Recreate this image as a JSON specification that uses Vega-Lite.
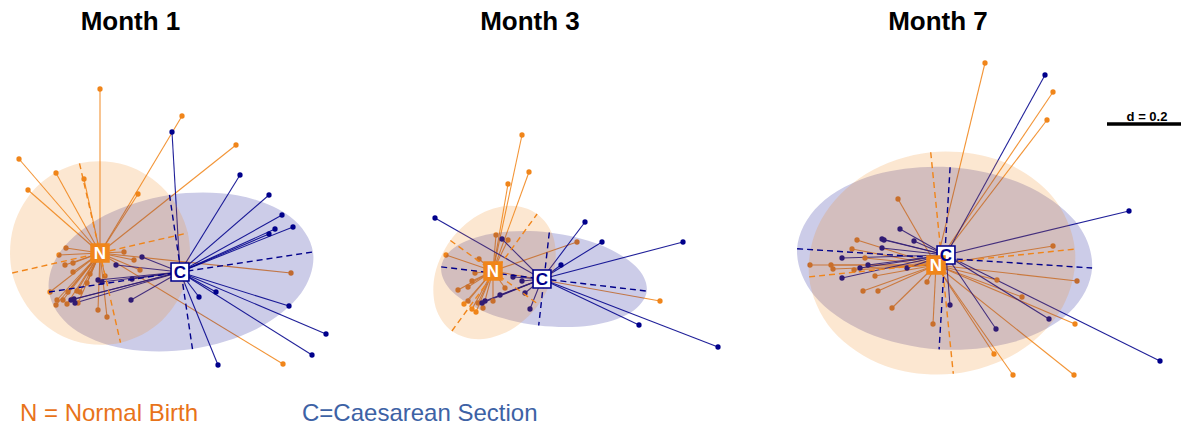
{
"$schema": "https://vega.github.io/schema/vega-lite/v6.json",
"padding": {"top": 9, "left": 0, "right": 0, "bottom": 0},
"spacing": 0,
"bounds": "flush",
"background": "white",
"config": {"view": {"stroke": null}, "title": {"font": "Liberation Sans", "fontSize": 26, "fontWeight": "bold", "color": "#000000", "offset": 6}},
"datasets": {
"pts": [
{"m":1,"g":"N","x":100,"y":88},{"m":1,"g":"N","x":19,"y":158},{"m":1,"g":"N","x":56,"y":172},{"m":1,"g":"N","x":28,"y":189},{"m":1,"g":"N","x":84,"y":178},{"m":1,"g":"N","x":138,"y":193},{"m":1,"g":"N","x":182,"y":115},{"m":1,"g":"N","x":236,"y":144},{"m":1,"g":"N","x":291,"y":272},{"m":1,"g":"N","x":283,"y":363},{"m":1,"g":"N","x":66,"y":247},{"m":1,"g":"N","x":59,"y":254},{"m":1,"g":"N","x":65,"y":264},{"m":1,"g":"N","x":73,"y":262},{"m":1,"g":"N","x":124,"y":251},{"m":1,"g":"N","x":134,"y":259},{"m":1,"g":"N","x":140,"y":269},{"m":1,"g":"N","x":73,"y":271},{"m":1,"g":"N","x":90,"y":273},{"m":1,"g":"N","x":50,"y":291},{"m":1,"g":"N","x":68,"y":291},{"m":1,"g":"N","x":77,"y":290},{"m":1,"g":"N","x":80,"y":291},{"m":1,"g":"N","x":87,"y":282},{"m":1,"g":"N","x":57,"y":299},{"m":1,"g":"N","x":63,"y":299},{"m":1,"g":"N","x":56,"y":304},{"m":1,"g":"N","x":67,"y":303},{"m":1,"g":"N","x":78,"y":302},{"m":1,"g":"N","x":98,"y":309},{"m":1,"g":"N","x":107,"y":316},{"m":1,"g":"N","x":105,"y":275},{"m":1,"g":"N","x":100,"y":280},
{"m":1,"g":"C","x":172,"y":131},{"m":1,"g":"C","x":240,"y":174},{"m":1,"g":"C","x":269,"y":194},{"m":1,"g":"C","x":282,"y":214},{"m":1,"g":"C","x":275,"y":228},{"m":1,"g":"C","x":293,"y":226},{"m":1,"g":"C","x":269,"y":233},{"m":1,"g":"C","x":199,"y":296},{"m":1,"g":"C","x":216,"y":291},{"m":1,"g":"C","x":289,"y":305},{"m":1,"g":"C","x":326,"y":333},{"m":1,"g":"C","x":312,"y":354},{"m":1,"g":"C","x":218,"y":364},{"m":1,"g":"C","x":142,"y":256},{"m":1,"g":"C","x":116,"y":264},{"m":1,"g":"C","x":98,"y":279},{"m":1,"g":"C","x":102,"y":281},{"m":1,"g":"C","x":132,"y":278},{"m":1,"g":"C","x":131,"y":299},{"m":1,"g":"C","x":71,"y":299},{"m":1,"g":"C","x":75,"y":302},{"m":1,"g":"C","x":74,"y":298},
{"m":3,"g":"N","x":522,"y":134},{"m":3,"g":"N","x":529,"y":171},{"m":3,"g":"N","x":508,"y":183},{"m":3,"g":"N","x":496,"y":234},{"m":3,"g":"N","x":508,"y":239},{"m":3,"g":"N","x":446,"y":254},{"m":3,"g":"N","x":479,"y":258},{"m":3,"g":"N","x":475,"y":272},{"m":3,"g":"N","x":472,"y":280},{"m":3,"g":"N","x":458,"y":289},{"m":3,"g":"N","x":468,"y":286},{"m":3,"g":"N","x":468,"y":300},{"m":3,"g":"N","x":464,"y":303},{"m":3,"g":"N","x":472,"y":308},{"m":3,"g":"N","x":476,"y":311},{"m":3,"g":"N","x":483,"y":307},{"m":3,"g":"N","x":478,"y":302},{"m":3,"g":"N","x":493,"y":300},{"m":3,"g":"N","x":505,"y":287},{"m":3,"g":"N","x":577,"y":241},{"m":3,"g":"N","x":660,"y":300},
{"m":3,"g":"C","x":435,"y":217},{"m":3,"g":"C","x":502,"y":238},{"m":3,"g":"C","x":561,"y":264},{"m":3,"g":"C","x":513,"y":276},{"m":3,"g":"C","x":522,"y":280},{"m":3,"g":"C","x":525,"y":292},{"m":3,"g":"C","x":530,"y":308},{"m":3,"g":"C","x":500,"y":294},{"m":3,"g":"C","x":485,"y":300},{"m":3,"g":"C","x":482,"y":302},{"m":3,"g":"C","x":585,"y":221},{"m":3,"g":"C","x":602,"y":241},{"m":3,"g":"C","x":683,"y":241},{"m":3,"g":"C","x":639,"y":324},{"m":3,"g":"C","x":718,"y":346},
{"m":7,"g":"N","x":985,"y":62},{"m":7,"g":"N","x":898,"y":198},{"m":7,"g":"N","x":1053,"y":91},{"m":7,"g":"N","x":1047,"y":119},{"m":7,"g":"N","x":857,"y":239},{"m":7,"g":"N","x":852,"y":248},{"m":7,"g":"N","x":865,"y":257},{"m":7,"g":"N","x":810,"y":264},{"m":7,"g":"N","x":831,"y":264},{"m":7,"g":"N","x":833,"y":268},{"m":7,"g":"N","x":854,"y":269},{"m":7,"g":"N","x":875,"y":275},{"m":7,"g":"N","x":927,"y":281},{"m":7,"g":"N","x":863,"y":290},{"m":7,"g":"N","x":878,"y":290},{"m":7,"g":"N","x":892,"y":307},{"m":7,"g":"N","x":933,"y":323},{"m":7,"g":"N","x":1053,"y":245},{"m":7,"g":"N","x":1077,"y":280},{"m":7,"g":"N","x":997,"y":279},{"m":7,"g":"N","x":1022,"y":296},{"m":7,"g":"N","x":1075,"y":323},{"m":7,"g":"N","x":994,"y":353},{"m":7,"g":"N","x":1013,"y":374},{"m":7,"g":"N","x":1074,"y":374},
{"m":7,"g":"C","x":1045,"y":74},{"m":7,"g":"C","x":1129,"y":210},{"m":7,"g":"C","x":900,"y":228},{"m":7,"g":"C","x":882,"y":238},{"m":7,"g":"C","x":884,"y":239},{"m":7,"g":"C","x":914,"y":240},{"m":7,"g":"C","x":882,"y":247},{"m":7,"g":"C","x":842,"y":257},{"m":7,"g":"C","x":860,"y":267},{"m":7,"g":"C","x":868,"y":264},{"m":7,"g":"C","x":907,"y":267},{"m":7,"g":"C","x":842,"y":277},{"m":7,"g":"C","x":950,"y":304},{"m":7,"g":"C","x":1049,"y":318},{"m":7,"g":"C","x":996,"y":328},{"m":7,"g":"C","x":1160,"y":360}
],
"c1": [{"g":"C","x":180,"y":271},{"g":"N","x":100,"y":252}],
"c3": [{"g":"C","x":542,"y":278},{"g":"N","x":493,"y":270}],
"c7": [{"g":"C","x":946,"y":254},{"g":"N","x":936,"y":264}],
"ell": [
{"m":1,"g":"C","i":0,"x":192.5,"y":348.1},{"m":1,"g":"C","i":1,"x":257,"y":327.8},{"m":1,"g":"C","i":2,"x":301.1,"y":292.3},{"m":1,"g":"C","i":3,"x":313,"y":251},{"m":1,"g":"C","i":4,"x":289.6,"y":215.2},{"m":1,"g":"C","i":5,"x":237,"y":194.2},{"m":1,"g":"C","i":6,"x":169.5,"y":193.9},{"m":1,"g":"C","i":7,"x":105,"y":214.2},{"m":1,"g":"C","i":8,"x":60.9,"y":249.8},{"m":1,"g":"C","i":9,"x":49,"y":291},{"m":1,"g":"C","i":10,"x":72.5,"y":326.9},{"m":1,"g":"C","i":11,"x":125,"y":347.8},
{"m":1,"g":"N","i":0,"x":120.5,"y":341.7},{"m":1,"g":"N","i":1,"x":161.7,"y":319.7},{"m":1,"g":"N","i":2,"x":186.3,"y":279.5},{"m":1,"g":"N","i":3,"x":187.8,"y":232},{"m":1,"g":"N","i":4,"x":165.8,"y":189.9},{"m":1,"g":"N","i":5,"x":126.1,"y":164.3},{"m":1,"g":"N","i":6,"x":79.5,"y":162.3},{"m":1,"g":"N","i":7,"x":38.3,"y":184.3},{"m":1,"g":"N","i":8,"x":13.8,"y":224.5},{"m":1,"g":"N","i":9,"x":12.2,"y":272},{"m":1,"g":"N","i":10,"x":34.3,"y":314.2},{"m":1,"g":"N","i":11,"x":73.9,"y":339.7},
{"m":3,"g":"C","i":0,"x":538.7,"y":324.5},{"m":3,"g":"C","i":1,"x":590.8,"y":324.4},{"m":3,"g":"C","i":2,"x":630.4,"y":311.8},{"m":3,"g":"C","i":3,"x":646.8,"y":290.1},{"m":3,"g":"C","i":4,"x":635.7,"y":265.3},{"m":3,"g":"C","i":5,"x":600,"y":243.8},{"m":3,"g":"C","i":6,"x":549.3,"y":231.5},{"m":3,"g":"C","i":7,"x":497.2,"y":231.7},{"m":3,"g":"C","i":8,"x":457.7,"y":244.3},{"m":3,"g":"C","i":9,"x":441.2,"y":265.9},{"m":3,"g":"C","i":10,"x":452.4,"y":290.8},{"m":3,"g":"C","i":11,"x":488,"y":312.3},
{"m":3,"g":"N","i":0,"x":537.1,"y":213},{"m":3,"g":"N","i":1,"x":553.5,"y":236.8},{"m":3,"g":"N","i":2,"x":554,"y":270},{"m":3,"g":"N","i":3,"x":538.6,"y":303.5},{"m":3,"g":"N","i":4,"x":511.4,"y":328.5},{"m":3,"g":"N","i":5,"x":479.7,"y":338.2},{"m":3,"g":"N","i":6,"x":451.9,"y":330},{"m":3,"g":"N","i":7,"x":435.6,"y":306.2},{"m":3,"g":"N","i":8,"x":435,"y":273},{"m":3,"g":"N","i":9,"x":450.4,"y":239.5},{"m":3,"g":"N","i":10,"x":477.6,"y":214.6},{"m":3,"g":"N","i":11,"x":509.4,"y":204.8},
{"m":7,"g":"C","i":0,"x":939.1,"y":348.4},{"m":7,"g":"C","i":1,"x":1013.6,"y":341},{"m":7,"g":"C","i":2,"x":1069.6,"y":311.2},{"m":7,"g":"C","i":3,"x":1092.1,"y":267},{"m":7,"g":"C","i":4,"x":1075.1,"y":220.1},{"m":7,"g":"C","i":5,"x":1023.1,"y":183.2},{"m":7,"g":"C","i":6,"x":950.1,"y":166.2},{"m":7,"g":"C","i":7,"x":875.6,"y":173.6},{"m":7,"g":"C","i":8,"x":819.7,"y":203.4},{"m":7,"g":"C","i":9,"x":797.1,"y":247.7},{"m":7,"g":"C","i":10,"x":814.2,"y":294.5},{"m":7,"g":"C","i":11,"x":866.1,"y":331.4},
{"m":7,"g":"N","i":0,"x":953.3,"y":372.8},{"m":7,"g":"N","i":1,"x":1018.3,"y":351},{"m":7,"g":"N","i":2,"x":1062.8,"y":305.4},{"m":7,"g":"N","i":3,"x":1074.9,"y":248.1},{"m":7,"g":"N","i":4,"x":1051.5,"y":194.6},{"m":7,"g":"N","i":5,"x":998.7,"y":159.1},{"m":7,"g":"N","i":6,"x":930.7,"y":151.2},{"m":7,"g":"N","i":7,"x":865.8,"y":173},{"m":7,"g":"N","i":8,"x":821.3,"y":218.6},{"m":7,"g":"N","i":9,"x":809.1,"y":275.9},{"m":7,"g":"N","i":10,"x":832.6,"y":329.4},{"m":7,"g":"N","i":11,"x":885.4,"y":364.9}
],
"ax": [
{"m":1,"g":"N","x":79.5,"y":162.3,"x2":120.5,"y2":341.7},{"m":1,"g":"N","x":12.2,"y":272,"x2":187.8,"y2":232},
{"m":1,"g":"C","x":169.5,"y":193.9,"x2":192.5,"y2":348.1},{"m":1,"g":"C","x":49,"y":291,"x2":313,"y2":251},
{"m":3,"g":"N","x":451.9,"y":330,"x2":537.1,"y2":213},{"m":3,"g":"N","x":450.4,"y":239.5,"x2":538.6,"y2":303.5},
{"m":3,"g":"C","x":549.3,"y":231.5,"x2":538.7,"y2":324.5},{"m":3,"g":"C","x":441.2,"y":265.9,"x2":646.8,"y2":290.1},
{"m":7,"g":"N","x":930.7,"y":151.2,"x2":953.3,"y2":372.8},{"m":7,"g":"N","x":809.1,"y":275.9,"x2":1074.9,"y2":248.1},
{"m":7,"g":"C","x":950.1,"y":166.2,"x2":939.1,"y2":348.4},{"m":7,"g":"C","x":797.1,"y":247.7,"x2":1092.1,"y2":267}
],
"key": [{"g":"N","t":"N = Normal Birth","x":20,"y":413},{"g":"C","t":"C=Caesarean Section","x":302,"y":413}],
"bar": [{"x":1107,"x2":1181,"y":123}],
"bartext": [{"x":1147,"y":120,"t":"d = 0.2"}]
},
"resolve": {"scale": {"x": "independent", "y": "independent"}},
"hconcat": [
{
"width": 393, "height": 359,
"title": {"text": "Month 1", "dx": -66},
"encoding": {
"x": {"field": "x", "type": "quantitative", "scale": {"domain": [0, 393], "nice": false, "zero": false}, "axis": null},
"y": {"field": "y", "type": "quantitative", "scale": {"domain": [40, 399], "nice": false, "zero": false, "reverse": true}, "axis": null}
},
"layer": [
{"data": {"name": "pts"}, "transform": [{"filter": "datum.m == 1"}, {"lookup": "g", "from": {"data": {"name": "c1"}, "key": "g", "fields": ["x", "y"]}, "as": ["cx", "cy"]}],
 "mark": {"type": "rule", "strokeWidth": 1.1, "opacity": 0.88},
 "encoding": {"x2": {"field": "cx"}, "y2": {"field": "cy"}, "color": {"field": "g", "type": "nominal", "scale": {"domain": ["N", "C"], "range": ["#F0851A", "#00008B"]}, "legend": null}}},
{"data": {"name": "pts"}, "transform": [{"filter": "datum.m == 1"}],
 "mark": {"type": "circle", "size": 28, "opacity": 1},
 "encoding": {"color": {"field": "g", "type": "nominal", "scale": {"domain": ["N", "C"], "range": ["#F0851A", "#00008B"]}, "legend": null}}},
{"data": {"name": "ell"}, "transform": [{"filter": "datum.m == 1"}],
 "mark": {"type": "line", "interpolate": "cardinal-closed", "fillOpacity": 0.2, "strokeWidth": 0, "strokeOpacity": 0},
 "encoding": {"order": {"field": "i", "type": "quantitative"}, "fill": {"field": "g", "type": "nominal", "scale": {"domain": ["N", "C"], "range": ["#F0851A", "#00008B"]}, "legend": null}}},
{"data": {"name": "ax"}, "transform": [{"filter": "datum.m == 1"}],
 "mark": {"type": "rule", "strokeDash": [6, 4], "strokeWidth": 1.4},
 "encoding": {"x2": {"field": "x2"}, "y2": {"field": "y2"}, "color": {"field": "g", "type": "nominal", "scale": {"domain": ["N", "C"], "range": ["#F0851A", "#00008B"]}, "legend": null}}},
{"data": {"name": "c1"},
 "mark": {"type": "point", "shape": "square", "filled": true, "fillOpacity": 1, "size": 320, "strokeWidth": 1.6, "opacity": 1},
 "encoding": {"fill": {"condition": {"test": "datum.g == 'N'", "value": "#F0851A"}, "value": "#ffffff"}, "stroke": {"condition": {"test": "datum.g == 'N'", "value": "#F0851A"}, "value": "#00008B"}}},
{"data": {"name": "c1"},
 "mark": {"type": "text", "font": "Liberation Sans", "fontSize": 17, "fontWeight": "bold", "baseline": "middle", "align": "center", "dy": 1},
 "encoding": {"text": {"field": "g"}, "color": {"condition": {"test": "datum.g == 'N'", "value": "#ffffff"}, "value": "#00008B"}}},
{"data": {"name": "key"},
 "mark": {"type": "text", "font": "Liberation Sans", "fontSize": 24, "baseline": "middle", "align": "left"},
 "encoding": {"text": {"field": "t"}, "color": {"condition": {"test": "datum.g == 'N'", "value": "#E8731A"}, "value": "#3D62A5"}}}
]
},
{
"width": 394, "height": 359,
"title": {"text": "Month 3", "dx": -60},
"encoding": {
"x": {"field": "x", "type": "quantitative", "scale": {"domain": [393, 787], "nice": false, "zero": false}, "axis": null},
"y": {"field": "y", "type": "quantitative", "scale": {"domain": [40, 399], "nice": false, "zero": false, "reverse": true}, "axis": null}
},
"layer": [
{"data": {"name": "pts"}, "transform": [{"filter": "datum.m == 3"}, {"lookup": "g", "from": {"data": {"name": "c3"}, "key": "g", "fields": ["x", "y"]}, "as": ["cx", "cy"]}],
 "mark": {"type": "rule", "strokeWidth": 1.1, "opacity": 0.88},
 "encoding": {"x2": {"field": "cx"}, "y2": {"field": "cy"}, "color": {"field": "g", "type": "nominal", "scale": {"domain": ["N", "C"], "range": ["#F0851A", "#00008B"]}, "legend": null}}},
{"data": {"name": "pts"}, "transform": [{"filter": "datum.m == 3"}],
 "mark": {"type": "circle", "size": 28, "opacity": 1},
 "encoding": {"color": {"field": "g", "type": "nominal", "scale": {"domain": ["N", "C"], "range": ["#F0851A", "#00008B"]}, "legend": null}}},
{"data": {"name": "ell"}, "transform": [{"filter": "datum.m == 3"}],
 "mark": {"type": "line", "interpolate": "cardinal-closed", "fillOpacity": 0.2, "strokeWidth": 0, "strokeOpacity": 0},
 "encoding": {"order": {"field": "i", "type": "quantitative"}, "fill": {"field": "g", "type": "nominal", "scale": {"domain": ["N", "C"], "range": ["#F0851A", "#00008B"]}, "legend": null}}},
{"data": {"name": "ax"}, "transform": [{"filter": "datum.m == 3"}],
 "mark": {"type": "rule", "strokeDash": [6, 4], "strokeWidth": 1.4},
 "encoding": {"x2": {"field": "x2"}, "y2": {"field": "y2"}, "color": {"field": "g", "type": "nominal", "scale": {"domain": ["N", "C"], "range": ["#F0851A", "#00008B"]}, "legend": null}}},
{"data": {"name": "c3"},
 "mark": {"type": "point", "shape": "square", "filled": true, "fillOpacity": 1, "size": 320, "strokeWidth": 1.6, "opacity": 1},
 "encoding": {"fill": {"condition": {"test": "datum.g == 'N'", "value": "#F0851A"}, "value": "#ffffff"}, "stroke": {"condition": {"test": "datum.g == 'N'", "value": "#F0851A"}, "value": "#00008B"}}},
{"data": {"name": "c3"},
 "mark": {"type": "text", "font": "Liberation Sans", "fontSize": 17, "fontWeight": "bold", "baseline": "middle", "align": "center", "dy": 1},
 "encoding": {"text": {"field": "g"}, "color": {"condition": {"test": "datum.g == 'N'", "value": "#ffffff"}, "value": "#00008B"}}}
]
},
{
"width": 394, "height": 359,
"title": {"text": "Month 7", "dx": -46},
"encoding": {
"x": {"field": "x", "type": "quantitative", "scale": {"domain": [787, 1181], "nice": false, "zero": false}, "axis": null},
"y": {"field": "y", "type": "quantitative", "scale": {"domain": [40, 399], "nice": false, "zero": false, "reverse": true}, "axis": null}
},
"layer": [
{"data": {"name": "pts"}, "transform": [{"filter": "datum.m == 7"}, {"lookup": "g", "from": {"data": {"name": "c7"}, "key": "g", "fields": ["x", "y"]}, "as": ["cx", "cy"]}],
 "mark": {"type": "rule", "strokeWidth": 1.1, "opacity": 0.88},
 "encoding": {"x2": {"field": "cx"}, "y2": {"field": "cy"}, "color": {"field": "g", "type": "nominal", "scale": {"domain": ["N", "C"], "range": ["#F0851A", "#00008B"]}, "legend": null}}},
{"data": {"name": "pts"}, "transform": [{"filter": "datum.m == 7"}],
 "mark": {"type": "circle", "size": 28, "opacity": 1},
 "encoding": {"color": {"field": "g", "type": "nominal", "scale": {"domain": ["N", "C"], "range": ["#F0851A", "#00008B"]}, "legend": null}}},
{"data": {"name": "ell"}, "transform": [{"filter": "datum.m == 7"}],
 "mark": {"type": "line", "interpolate": "cardinal-closed", "fillOpacity": 0.2, "strokeWidth": 0, "strokeOpacity": 0},
 "encoding": {"order": {"field": "i", "type": "quantitative"}, "fill": {"field": "g", "type": "nominal", "scale": {"domain": ["N", "C"], "range": ["#F0851A", "#00008B"]}, "legend": null}}},
{"data": {"name": "ax"}, "transform": [{"filter": "datum.m == 7"}],
 "mark": {"type": "rule", "strokeDash": [6, 4], "strokeWidth": 1.4},
 "encoding": {"x2": {"field": "x2"}, "y2": {"field": "y2"}, "color": {"field": "g", "type": "nominal", "scale": {"domain": ["N", "C"], "range": ["#F0851A", "#00008B"]}, "legend": null}}},
{"data": {"name": "c7"},
 "mark": {"type": "point", "shape": "square", "filled": true, "fillOpacity": 1, "size": 320, "strokeWidth": 1.6, "opacity": 1},
 "encoding": {"fill": {"condition": {"test": "datum.g == 'N'", "value": "#F0851A"}, "value": "#ffffff"}, "stroke": {"condition": {"test": "datum.g == 'N'", "value": "#F0851A"}, "value": "#00008B"}}},
{"data": {"name": "c7"},
 "mark": {"type": "text", "font": "Liberation Sans", "fontSize": 17, "fontWeight": "bold", "baseline": "middle", "align": "center", "dy": 1},
 "encoding": {"text": {"field": "g"}, "color": {"condition": {"test": "datum.g == 'N'", "value": "#ffffff"}, "value": "#00008B"}}},
{"data": {"name": "bar"},
 "mark": {"type": "rule", "strokeWidth": 3.5, "color": "#000000"},
 "encoding": {"x2": {"field": "x2"}}},
{"data": {"name": "bartext"},
 "mark": {"type": "text", "font": "Liberation Sans", "fontSize": 13, "fontWeight": "bold", "baseline": "alphabetic", "align": "center", "color": "#000000"},
 "encoding": {"text": {"field": "t"}}}
]
}
]
}
